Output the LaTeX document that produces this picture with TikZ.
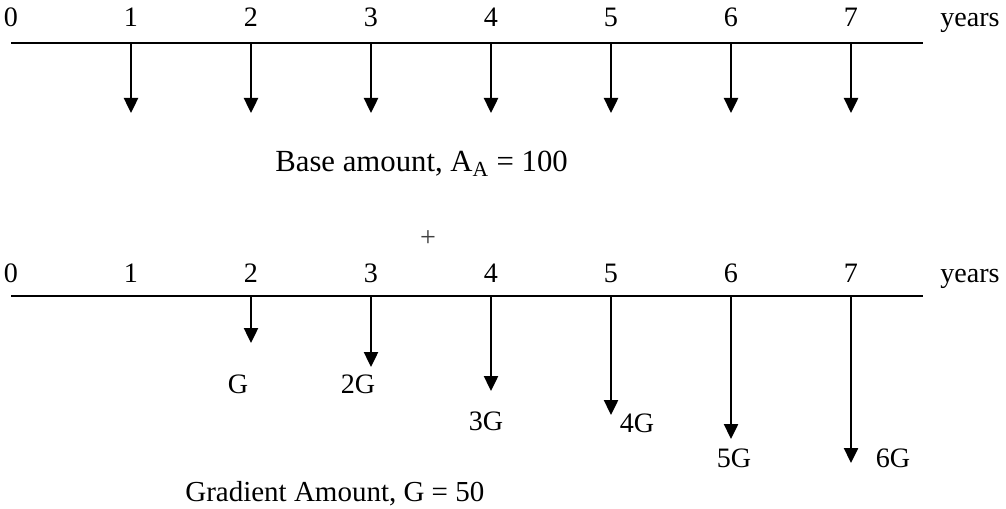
\documentclass[tikz,border=0pt]{standalone}
\usepackage{fontspec}
\setmainfont{Liberation Serif}
\usepackage{tikz}
\usetikzlibrary{arrows.meta}

\tikzset{
  axis/.style={line width=1.4pt},
  cash/.style={line width=1.4pt,-{Triangle[length=0.3cm,width=0.28cm]}},
  lbl/.style={inner sep=0pt,anchor=base,font=\fontsize{16}{19}\selectfont},
  note/.style={inner sep=0pt,anchor=base west}
}

\begin{document}
\begin{tikzpicture}[x=0.02cm,y=-0.02cm]
\useasboundingbox (0,0) rectangle (1006,509);

\coordinate (a0) at (11,43);
\coordinate (a1) at (923,43);
\coordinate (b0) at (11,296);
\coordinate (b1) at (923,296);

\draw[axis] (a0) -- (a1);
\draw[axis] (b0) -- (b1);

\foreach \i in {0,...,7} {
    \node[lbl] (ta\i) at (11+120*\i,27) {\i};
    \node[lbl] (tb\i) at (11+120*\i,283) {\i};
}

\node[lbl,anchor=base west] (ya) at (940,27) {years};
\node[lbl,anchor=base west] (yb) at (940,283) {years};

\foreach \i in {1,...,7} {
    \coordinate (pa\i) at (11+120*\i,43);
    \coordinate (qa\i) at (11+120*\i,113);
    \draw[cash] (pa\i) -- (qa\i);
}

\foreach \i in {2,...,7} {
    \coordinate (pb\i) at (11+120*\i,296);
    \coordinate (qb\i) at (11+120*\i,{343+24*(\i-2)});
    \draw[cash] (pb\i) -- (qb\i);
}

\foreach \t/\x/\y in {G/238/393,2G/358/393,3G/486/430,4G/637/432,5G/734/467,6G/893/467} {
    \node[lbl] (g\t) at (\x,\y) {\t};
}

\node[note,font=\fontsize{17.5}{20}\selectfont] (base) at (275,172) {Base amount, A\textsubscript{A} = 100};
\node[lbl,anchor=center,text=black!75] (plus) at (428,239) {+};
\node[note,font=\fontsize{16.5}{19}\selectfont] (grad) at (185,501) {Gradient Amount, G = 50};

\end{tikzpicture}
\end{document}
